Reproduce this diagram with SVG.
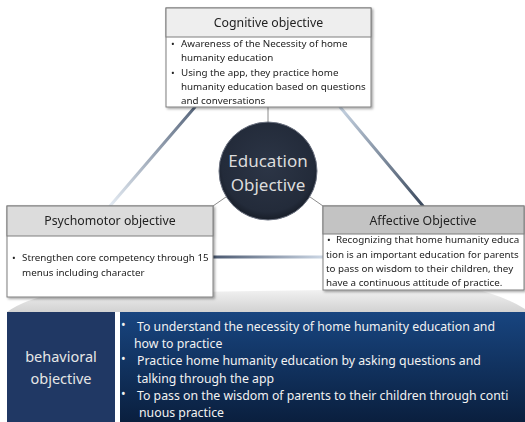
<svg xmlns="http://www.w3.org/2000/svg" width="525" height="422" viewBox="0 0 525 422">
  <defs>
    <style>
      .box { fill: #ffffff; stroke: #7f7f7f; stroke-width: 1; }
      .hdr { stroke: #7f7f7f; stroke-width: 1; }
      .title { font-family: "Noto Sans", "Open Sans", sans-serif; font-size: 12.3px; fill: #222222; text-anchor: middle; }
      .body { font-family: "Noto Sans", "Open Sans", sans-serif; font-size: 9.8px; fill: #222222; }
      .thin { stroke: #8c8c8c; stroke-width: 1; fill: none; }
      .edge { stroke-width: 3; fill: none; stroke-linecap: round; }
      .band { font-family: "Noto Sans", "Open Sans", sans-serif; font-size: 12.3px; fill: #f2f2f2; }
      .bandL { font-family: "Noto Sans", "Open Sans", sans-serif; font-size: 14.5px; fill: #e6e6e6; text-anchor: middle; }
      .center { font-family: "Noto Sans", "Open Sans", sans-serif; font-size: 17px; fill: #dcdcdc; text-anchor: middle; }
    </style>
    <filter id="shadow" x="-5%" y="-5%" width="115%" height="120%">
      <feDropShadow dx="1.5" dy="1.5" stdDeviation="1" flood-color="#000000" flood-opacity="0.35"/>
    </filter>
    <linearGradient id="gLeft" gradientUnits="userSpaceOnUse" x1="195" y1="107" x2="110" y2="206">
      <stop offset="0" stop-color="#58677d"/>
      <stop offset="1" stop-color="#e4ebf3"/>
    </linearGradient>
    <linearGradient id="gRight" gradientUnits="userSpaceOnUse" x1="340" y1="107" x2="423" y2="206">
      <stop offset="0" stop-color="#c6d3e2"/>
      <stop offset="1" stop-color="#3c4a5e"/>
    </linearGradient>
    <linearGradient id="gBottom" gradientUnits="userSpaceOnUse" x1="213" y1="257" x2="323" y2="257">
      <stop offset="0" stop-color="#4a5870"/>
      <stop offset="1" stop-color="#ccd7e5"/>
    </linearGradient>
    <linearGradient id="gShelf" gradientUnits="userSpaceOnUse" x1="0" y1="280" x2="0" y2="312">
      <stop offset="0" stop-color="#ffffff"/>
      <stop offset="1" stop-color="#d2d2d2"/>
    </linearGradient>
    <linearGradient id="gBand" x1="0" y1="0" x2="0" y2="1">
      <stop offset="0" stop-color="#184580"/>
      <stop offset="1" stop-color="#0a1f3e"/>
    </linearGradient>
    <radialGradient id="gCircle" cx="0.5" cy="0.45" r="0.55">
      <stop offset="0" stop-color="#2c3546"/>
      <stop offset="0.85" stop-color="#232b3a"/>
      <stop offset="1" stop-color="#181e29"/>
    </radialGradient>
  </defs>

  <!-- grey floor under the boxes -->
  <path d="M7,312 Q25,299 55,294 L470,288 Q505,296 525,309 L525,312 Z" fill="url(#gShelf)"/>

  <!-- connectors -->
  <g id="connectors">
    <line class="edge" x1="195" y1="107" x2="110" y2="206" stroke="url(#gLeft)"/>
    <line class="edge" x1="340" y1="107" x2="423" y2="206" stroke="url(#gRight)"/>
    <line class="edge" x1="213" y1="257" x2="323" y2="257" stroke="url(#gBottom)"/>
    <line class="thin" x1="268" y1="107" x2="268" y2="125"/>
    <line class="thin" x1="213" y1="206" x2="236" y2="190"/>
    <line class="thin" x1="323" y1="206" x2="300" y2="190"/>
  </g>

  <!-- centre circle -->
  <g id="education-objective">
    <circle cx="268" cy="171" r="49" fill="url(#gCircle)" stroke="#6b7180" stroke-width="1"/>
    <text class="center" x="268" y="167">Education</text>
    <text class="center" x="268" y="191">Objective</text>
  </g>

  <!-- cognitive -->
  <g id="cognitive" filter="url(#shadow)">
    <rect class="box" x="166" y="8" width="205" height="99"/>
    <rect class="hdr" x="166" y="8" width="205" height="29" fill="#eeeeee"/>
    <text class="title" x="268.5" y="27">Cognitive objective</text>
    <text class="body" x="171" y="47">•</text>
    <text class="body" x="181" y="47">Awareness of the Necessity of home</text>
    <text class="body" x="181" y="61">humanity education</text>
    <text class="body" x="171" y="76">•</text>
    <text class="body" x="181" y="76">Using the app, they practice home</text>
    <text class="body" x="181" y="90">humanity education based on questions</text>
    <text class="body" x="181" y="104">and conversations</text>
  </g>

  <!-- psychomotor -->
  <g id="psychomotor" filter="url(#shadow)">
    <rect class="box" x="7" y="206" width="206" height="91"/>
    <rect class="hdr" x="7" y="206" width="206" height="30" fill="#dcdcdc"/>
    <text class="title" x="110" y="225">Psychomotor objective</text>
    <text class="body" x="12" y="261">•</text>
    <text class="body" x="22" y="261">Strengthen core competency through 15</text>
    <text class="body" x="22" y="276">menus including character</text>
  </g>

  <!-- affective -->
  <g id="affective" filter="url(#shadow)">
    <rect class="box" x="323" y="206" width="201" height="84"/>
    <rect class="hdr" x="323" y="206" width="201" height="28" fill="#c3c3c3"/>
    <text class="title" x="423" y="225">Affective Objective</text>
    <text class="body" x="327" y="243">•</text>
    <text class="body" x="336" y="243">Recognizing that home humanity educa</text>
    <text class="body" x="326" y="258">tion is an important education for parents</text>
    <text class="body" x="326" y="272">to pass on wisdom to their children, they</text>
    <text class="body" x="326" y="286">have a continuous attitude of practice.</text>
  </g>

  <!-- behavioral band -->
  <g id="behavioral-label">
    <rect x="7" y="312" width="108" height="110" fill="#203864"/>
    <text class="bandL" x="61" y="362">behavioral</text>
    <text class="bandL" x="61" y="384">objective</text>
  </g>
  <g id="behavioral-items">
    <rect x="120" y="312" width="405" height="110" fill="url(#gBand)"/>
    <text class="band" x="121" y="329">•</text>
    <text class="band" x="137" y="331">To understand  the necessity of home humanity education and</text>
    <text class="band" x="134" y="348">how to practice</text>
    <text class="band" x="121" y="363">•</text>
    <text class="band" x="137" y="365">Practice home humanity education by asking questions and</text>
    <text class="band" x="137" y="383">talking through the app</text>
    <text class="band" x="121" y="398">•</text>
    <text class="band" x="137" y="400">To pass on the wisdom of parents to their children through conti</text>
    <text class="band" x="139" y="417">nuous practice</text>
  </g>
</svg>
